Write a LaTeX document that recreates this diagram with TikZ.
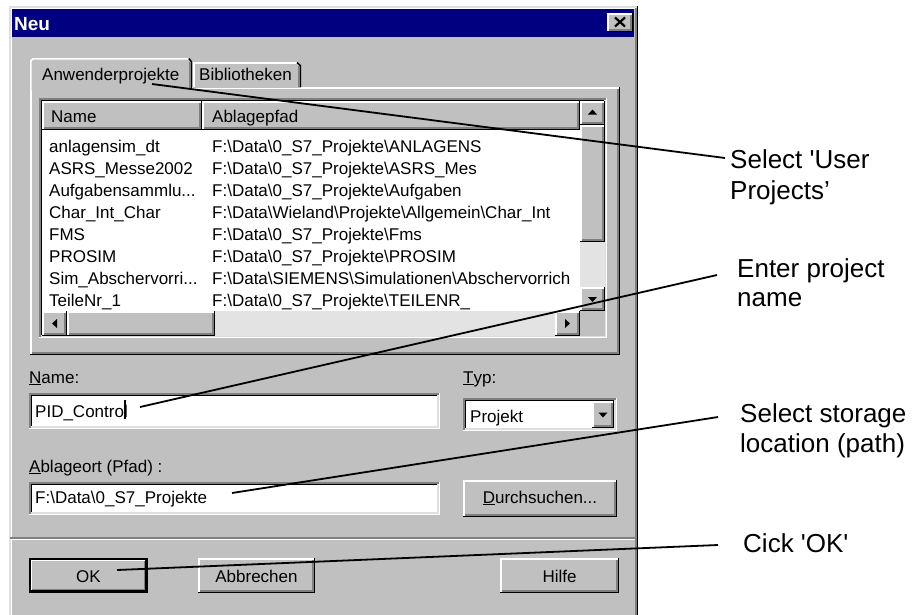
\documentclass[tikz,border=0pt]{standalone}
\usepackage{fontspec}
\setmainfont{Liberation Sans}
\usetikzlibrary{calc}

\definecolor{winface}{HTML}{C0C0C0}
\definecolor{winshadow}{HTML}{808080}
\definecolor{winlight}{HTML}{DFDFDF}
\definecolor{wintitle}{HTML}{000080}
\definecolor{windither}{HTML}{E3E3E3}

\def\bs{\textbackslash}
\def\sq{\textquotesingle}

% raised 3D frame: x1 y1 x2 y2 (top left, bottom right)
\newcommand{\uiraised}[4]{%
  \fill[winface] (#1,#2) rectangle (#3,#4);
  \draw[white,bevel] (#1+0.75,#4-1.5) -- (#1+0.75,#2+0.75) -- (#3-1.5,#2+0.75);
  \draw[black,bevel] (#1,#4-0.75) -- (#3-0.75,#4-0.75) -- (#3-0.75,#2);
  \draw[winshadow,bevel] (#1+1.5,#4-2.25) -- (#3-2.25,#4-2.25) -- (#3-2.25,#2+1.5);
}
% sunken 3D frame with white field
\newcommand{\uisunken}[4]{%
  \fill[white] (#1,#2) rectangle (#3,#4);
  \draw[winshadow,bevel] (#1+0.75,#4) -- (#1+0.75,#2+0.75) -- (#3,#2+0.75);
  \draw[black,bevel] (#1+2.25,#4-1.5) -- (#1+2.25,#2+2.25) -- (#3-1.5,#2+2.25);
  \draw[white,bevel] (#1,#4-0.75) -- (#3-0.75,#4-0.75) -- (#3-0.75,#2);
  \draw[winlight,bevel] (#1+1.5,#4-2.25) -- (#3-2.25,#4-2.25) -- (#3-2.25,#2+1.5);
}

\begin{document}
\begin{tikzpicture}[x=1pt,y=-1pt,
  bevel/.style={line width=1.5pt},
  ui/.style={font=\fontsize{17}{20}\selectfont, inner sep=0pt, text=black, anchor=base west},
  uic/.style={ui, anchor=base},
  callout/.style={font=\fontsize{26}{30}\selectfont, inner sep=0pt, anchor=base west},
  leader/.style={line width=1.8pt, black},
  arrowtip/.style={fill=black}]

\clip (0,0) rectangle (913,614);
\fill[white] (0,0) rectangle (913,614);

% ---- dialog window ----
\fill[winface] (9,6) rectangle (638,620);
\draw[winlight,bevel] (9.75,620) -- (9.75,6.75) -- (637,6.75);
\draw[white,bevel] (11.25,620) -- (11.25,8.25) -- (635.5,8.25);
\draw[black,bevel] (637.25,6) -- (637.25,620);
\draw[winshadow,bevel] (635.75,8) -- (635.75,620);

% title bar
\fill[wintitle] (12,9) rectangle (634,37);
\node[anchor=base west, inner sep=0pt, text=white,
      font=\bfseries\fontsize{19}{22}\selectfont] (ttl) at (14,30) {Neu};
\uiraised{607}{13}{633}{32}
\draw[line width=2.2pt] (615,17.5) -- (625,26.5) (615,26.5) -- (625,17.5);

% ---- tab panel ----
\uiraised{30}{87}{620}{355}
% inactive tab
\fill[winface] (193,88) rectangle (301,62);
\draw[white,bevel] (193.75,87) -- (193.75,62.75) -- (297,62.75);
\draw[black,bevel] (297,62.5) -- (300.25,65.5) -- (300.25,87);
\draw[winshadow,bevel] (298.75,66) -- (298.75,87);
\node[ui] (tabB) at (199,80) {Bibliotheken};
% active tab
\fill[winface] (30,90) -- (30,61) -- (33,58) -- (189,58) -- (192,61) -- (192,90) -- cycle;
\draw[white,bevel] (30.75,90) -- (30.75,61) -- (33,58.75) -- (188,58.75);
\draw[black,bevel] (189,58.5) -- (191.25,61.5) -- (191.25,88);
\draw[winshadow,bevel] (189.75,62) -- (189.75,88);
\node[ui] (tabA) at (42,80) {Anwenderprojekte};

% ---- list view ----
\uisunken{39}{98}{607}{338}
\uiraised{42}{101}{202}{130}
\uiraised{202}{101}{580}{130}
\node[ui] (hName) at (51,122) {Name};
\node[ui] (hPath) at (212,122) {Ablagepfad};

\begin{scope}
  \clip (42,130) rectangle (580,311);
  \node[ui] (nm0) at (49,152) {anlagensim\_dt};
  \node[ui] (nm1) at (49,174) {ASRS\_Messe2002};
  \node[ui] (nm2) at (49,196) {Aufgabensammlu...};
  \node[ui] (nm3) at (49,218) {Char\_Int\_Char};
  \node[ui] (nm4) at (49,240) {FMS};
  \node[ui] (nm5) at (49,262) {PROSIM};
  \node[ui] (nm6) at (49,284) {Sim\_Abschervorri...};
  \node[ui] (nm7) at (49,306) {TeileNr\_1};
  \node[ui] (pt0) at (212,152) {F:\bs Data\bs0\_S7\_Projekte\bs ANLAGENS};
  \node[ui] (pt1) at (212,174) {F:\bs Data\bs0\_S7\_Projekte\bs ASRS\_Mes};
  \node[ui] (pt2) at (212,196) {F:\bs Data\bs0\_S7\_Projekte\bs Aufgaben};
  \node[ui] (pt3) at (212,218) {F:\bs Data\bs Wieland\bs Projekte\bs Allgemein\bs Char\_Int};
  \node[ui] (pt4) at (212,240) {F:\bs Data\bs0\_S7\_Projekte\bs Fms};
  \node[ui] (pt5) at (212,262) {F:\bs Data\bs0\_S7\_Projekte\bs PROSIM};
  \node[ui] (pt6) at (212,284) {F:\bs Data\bs SIEMENS\bs Simulationen\bs Abschervorrich};
  \node[ui] (pt7) at (212,306) {F:\bs Data\bs0\_S7\_Projekte\bs TEILENR\_};
\end{scope}

% vertical scroll bar
\fill[windither] (580,125) rectangle (605,287);
\uiraised{580}{101}{605}{125}
\fill[arrowtip] (592.5,109.5) -- (588,114.5) -- (597,114.5) -- cycle;
\uiraised{580}{125}{605}{242}
\uiraised{580}{287}{605}{311}
\fill[arrowtip] (592.5,302) -- (588,297) -- (597,297) -- cycle;
% horizontal scroll bar
\fill[windither] (67,311) rectangle (555,336);
\uiraised{42}{311}{67}{336}
\fill[arrowtip] (52,323.5) -- (57,319) -- (57,328) -- cycle;
\uiraised{67}{311}{215}{336}
\uiraised{555}{311}{580}{336}
\fill[arrowtip] (570,323.5) -- (565,319) -- (565,328) -- cycle;
\fill[winface] (580,311) rectangle (605,336);

% ---- name, type and location fields ----
\node[ui] (lName) at (29,383) {\underline{N}ame:};
\uisunken{29}{393}{440}{429}
\node[ui] (pid) at (35,417) {PID\_Control};
\draw[line width=1.3pt] (125,400) -- (125,419);

\node[ui] (lTyp) at (463,383) {\underline{T}yp:};
\uisunken{463}{398}{617}{431}
\node[ui] (typ) at (470,422) {Projekt};
\uiraised{592}{401}{614}{428}
\fill[arrowtip] (603,417.5) -- (598.5,412.5) -- (607.5,412.5) -- cycle;

\node[ui] (lPath) at (29,472) {\underline{A}blageort (Pfad) :};
\uisunken{29}{482}{440}{515}
\node[ui] (path) at (35,503) {F:\bs Data\bs0\_S7\_Projekte};
\uiraised{463}{480}{617}{517}
\node[uic] (browse) at (540,503) {\underline{D}urchsuchen...};

% separator
\draw[winshadow,bevel] (10,537.75) -- (635,537.75);
\draw[white,bevel] (10,539.25) -- (635,539.25);

% ---- buttons ----
\fill[black] (29,558) rectangle (148,593);
\uiraised{30.5}{559.5}{146.5}{591.5}
\node[uic] (okb) at (88.5,582) {OK};
\uiraised{198}{558}{315}{593}
\node[uic] (cancel) at (256.5,582) {Abbrechen};
\uiraised{500}{558}{619}{593}
\node[uic] (help) at (559.5,582) {Hilfe};

% ---- callouts ----
\node[callout] (sel1) at (730,168) {Select \sq User};
\node[callout] (sel2) at (730,199) {Projects’};
\node[callout] (ent1) at (737,277) {Enter project};
\node[callout] (ent2) at (737,306) {name};
\node[callout] (sto1) at (740,422) {Select storage};
\node[callout] (sto2) at (740,452) {location (path)};
\node[callout] (ok1) at (743,552) {Cick \sq OK\sq};

\coordinate (p1) at (152,84);
\coordinate (p2) at (140,407);
\coordinate (p3) at (232,493);
\coordinate (p4) at (117,570);

\draw[leader] (p1) -- ($(sel1.base west)+(-5,-10)$);
\draw[leader] (p2) -- ($(ent1.base west)+(-20,-2)$);
\draw[leader] (p3) -- ($(sto1.base west)+(-22,-5)$);
\draw[leader] (p4) -- ($(ok1.base west)+(-25,-7)$);

\end{tikzpicture}
\end{document}
